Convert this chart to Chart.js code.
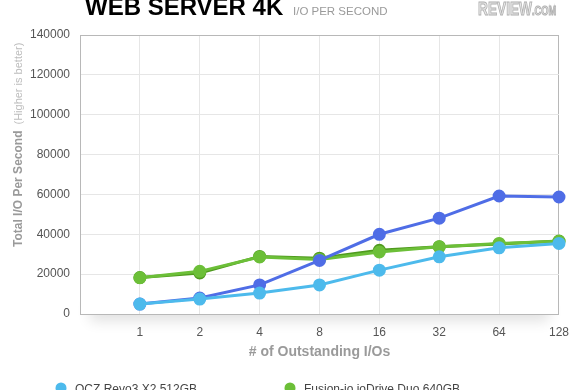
<!DOCTYPE html>
<html>
<head>
<meta charset="utf-8">
<script src="https://cdn.jsdelivr.net/npm/chart.js@4"></script>
<style>
  html, body { margin: 0; padding: 0; background: #fff; overflow: hidden; }
  #wrap { position: relative; width: 580px; height: 390px; }
</style>
</head>
<body>
<div id="wrap"><canvas id="ioChart" width="580" height="390"></canvas></div>
<script>
// outstanding I/O queue depths
const queueDepths = ['1', '2', '4', '8', '16', '32', '64', '128'];
const yTicks = [0, 20000, 40000, 60000, 80000, 100000, 120000, 140000];

const revoX2 = [5000, 7500, 10500, 14600, 22000, 28700, 33200, 35400];
const revoRaid = [5000, 8000, 14600, 26900, 40000, 48100, 59200, 58700];
const fusionDuo = [18200, 21400, 28600, 27400, 31100, 33700, 35400, 36500];
const fusionRaid = [18300, 20600, 28900, 28000, 32000, 33800, 35100, 36600];

const FONT = "'Liberation Sans', Arial, Helvetica, sans-serif";
const ctx = document.getElementById('ioChart');

// first slot is empty so "1" sits one step in from the left edge
const labels = [''].concat(queueDepths);
const pad = arr => [null].concat(arr);

function series(label, values, color, order) {
    return {
        label: label,
        data: pad(values),
        borderColor: color,
        backgroundColor: color,
        pointBackgroundColor: color,
        pointBorderColor: color,
        borderWidth: 3,
        pointRadius: 5,
        pointHoverRadius: 5,
        tension: 0,
        order: order,
    };
}

const shadowPlugin = {
    id: 'plotShadow',
    beforeDraw(chart) {
        const a = chart.chartArea;
        const c = chart.ctx;
        c.save();
        c.shadowColor = 'rgba(0,0,0,0.12)';
        c.shadowBlur = 14;
        c.shadowOffsetY = 7;
        c.fillStyle = '#fff';
        c.fillRect(a.left + 10, a.bottom - 20, a.right - a.left - 20, 20);
        c.restore();
        c.fillStyle = '#fff';
        c.fillRect(a.left, a.top, a.right - a.left, a.bottom - a.top);
    }
};

const textPlugin = {
    id: 'extraText',
    afterDraw(chart) {
        const c = chart.ctx;
        const a = chart.chartArea;
        c.save();

        // heading
        c.textBaseline = 'alphabetic';
        c.textAlign = 'left';
        c.fillStyle = '#000';
        c.font = 'bold 24px ' + FONT;
        c.fillText('WEB SERVER 4K', 85, 15);
        c.fillStyle = '#9a9a9a';
        c.font = '11.5px ' + FONT;
        c.fillText('I/O PER SECOND', 293, 15);

        // logo, squeezed horizontally
        c.save();
        c.translate(478, 15);
        c.scale(0.72, 1);
        c.lineWidth = 1;
        c.fillStyle = '#e8e8e8';
        c.strokeStyle = '#b0b0b0';
        c.font = 'bold 19px ' + FONT;
        c.fillText('REVIEW', 0, 0);
        c.strokeText('REVIEW', 0, 0);
        const w = c.measureText('REVIEW').width;
        c.font = 'bold 13px ' + FONT;
        c.fillText('.COM', w, 0);
        c.strokeText('.COM', w, 0);
        c.restore();

        // x axis title
        c.textAlign = 'center';
        c.fillStyle = '#9a9a9a';
        c.font = 'bold 14px ' + FONT;
        c.fillText('# of Outstanding I/Os', (a.left + a.right) / 2, 356);

        // y axis title
        c.translate(22, 247);
        c.rotate(-Math.PI / 2);
        c.textAlign = 'left';
        c.font = 'bold 12px ' + FONT;
        c.fillStyle = '#9a9a9a';
        c.fillText('Total I/O Per Second', 0, 0);
        const tw = c.measureText('Total I/O Per Second').width;
        c.font = '11px ' + FONT;
        c.fillStyle = '#bdbdbd';
        c.fillText('(Higher is better)', tw + 6, 0);
        c.restore();

        // legend, two columns
        c.save();
        const cols = [61, 290];
        chart.data.datasets.forEach((ds, i) => {
            const x = cols[i % 2];
            const y = 388 + Math.floor(i / 2) * 20;
            c.beginPath();
            c.arc(x, y, 5.5, 0, Math.PI * 2);
            c.fillStyle = ds.borderColor;
            c.fill();
            c.fillStyle = '#444';
            c.font = '12px ' + FONT;
            c.textAlign = 'left';
            c.textBaseline = 'alphabetic';
            c.fillText(ds.label, x + 14, y + 5);
        });
        c.restore();
    }
};

const edge = '#b8b8b8';
const grid = '#e6e6e6';

new Chart(ctx, {
    type: 'line',
    data: {
        labels: labels,
        datasets: [
            series('OCZ Revo3 X2 512GB', revoX2, '#4dbaec', 0),
            series('Fusion-io ioDrive Duo 640GB', fusionDuo, '#6cbf38', 2),
            series('OCZ Revo3 X2 512GB (RAID 0)', revoRaid, '#4f6de6', 1),
            series('Fusion-io ioDrive Duo 640GB (RAID 0)', fusionRaid, '#4f9a1e', 3),
        ]
    },
    options: {
        responsive: false,
        animation: false,
        spanGaps: true,
        layout: { padding: { left: 0, right: 21, top: 35, bottom: 0 } },
        plugins: {
            legend: { display: false },
            tooltip: { enabled: false },
        },
        scales: {
            x: {
                type: 'category',
                offset: false,
                grid: {
                    drawTicks: false,
                    color: c => (c.index === 0 || c.index === labels.length - 1) ? edge : grid,
                },
                border: { display: true, color: edge },
                ticks: {
                    color: '#555',
                    font: { size: 12, family: FONT },
                    padding: 11,
                    maxRotation: 0,
                    autoSkip: false,
                },
                afterFit(scale) { scale.height = 76; },
            },
            y: {
                min: yTicks[0],
                max: yTicks[yTicks.length - 1],
                afterBuildTicks(scale) { scale.ticks = yTicks.map(v => ({ value: v })); },
                grid: {
                    drawTicks: false,
                    color: c => (c.tick && (c.tick.value === 0 || c.tick.value === 140000)) ? edge : grid,
                },
                border: { display: true, color: edge },
                ticks: {
                    color: '#555',
                    font: { size: 12, family: FONT },
                    padding: 10,
                    callback: v => String(v),
                },
                afterFit(scale) { scale.width = 80; },
            }
        }
    },
    plugins: [shadowPlugin, textPlugin]
});
</script>
</body>
</html>
